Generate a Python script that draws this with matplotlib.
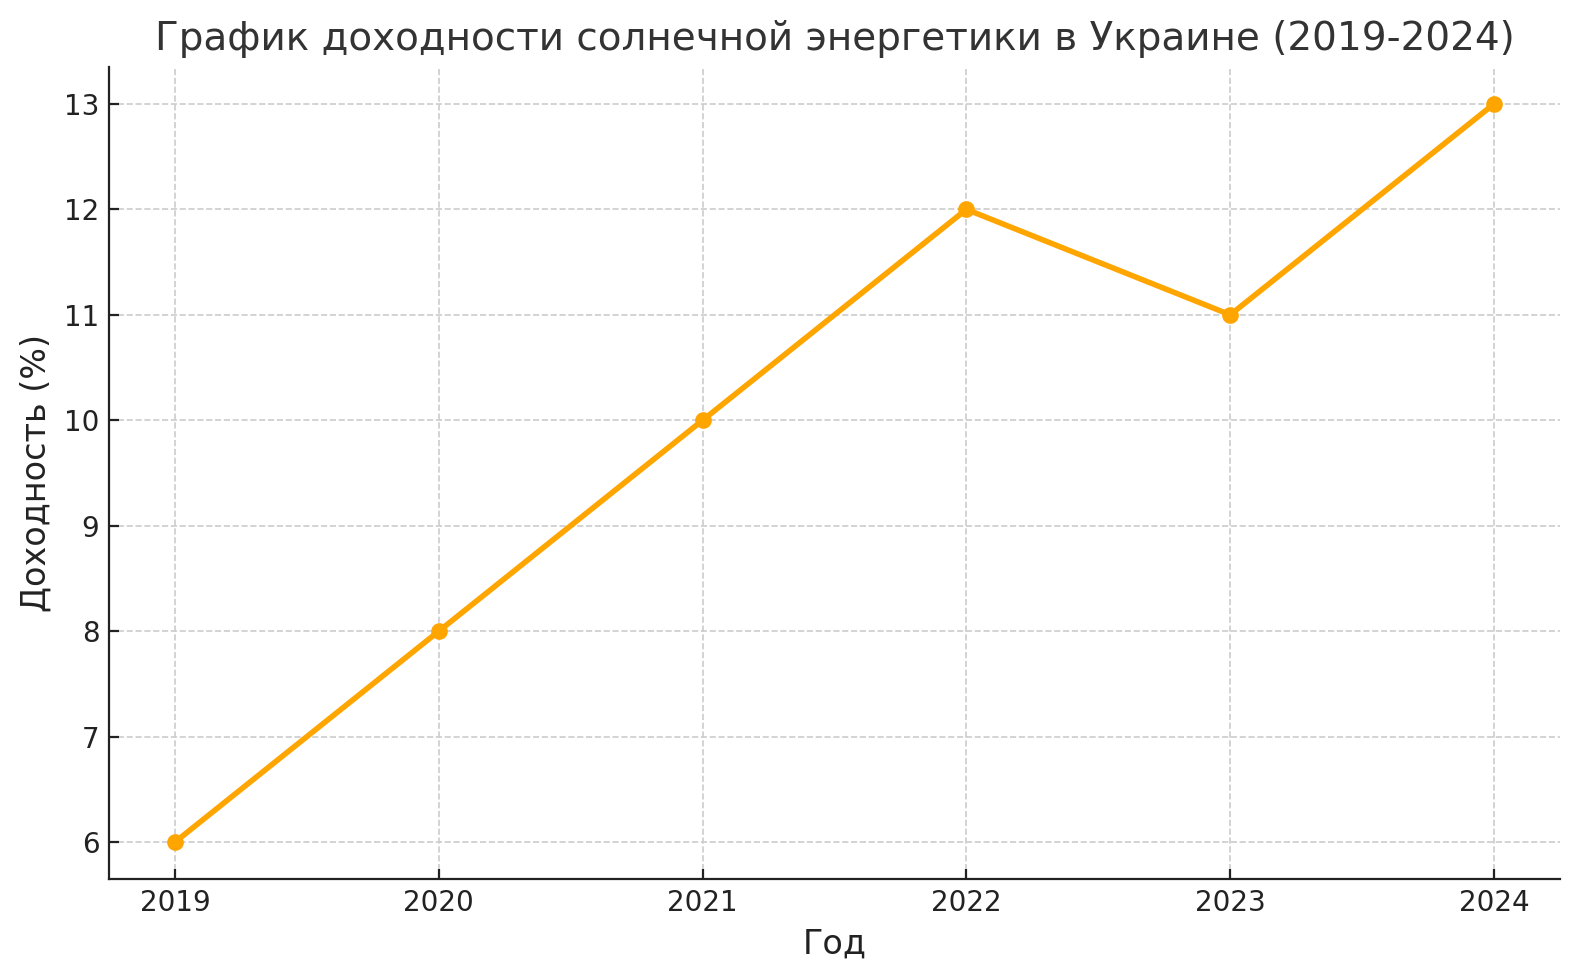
import matplotlib
matplotlib.use("Agg")
import matplotlib.pyplot as plt

years = [2019, 2020, 2021, 2022, 2023, 2024]
returns = [6, 8, 10, 12, 11, 13]

title = "График доходности солнечной энергетики в Украине (2019-2024)"
xlabel = "Год"
ylabel = "Доходность (%)"

plt.rcParams['font.family'] = ['DejaVu Sans']
fig = plt.figure(figsize=(7.9, 4.9), dpi=200)
ax = fig.add_axes([109/1580, 1-879/980, (1560-109)/1580, (879-67)/980])
ax.plot(years, returns, color='orange', marker='o', linewidth=2, markersize=5)
ax.set_title(title, fontsize=14, color='#333333')
ax.set_xlabel(xlabel, fontsize=12, color='#222222')
ax.set_ylabel(ylabel, fontsize=12, color='#222222')
ax.set_xticks(years)
ax.grid(True, linestyle='--', color='#cccccc', linewidth=0.6)
ax.spines['top'].set_visible(False)
ax.spines['right'].set_visible(False)
for s in ('left', 'bottom'):
    ax.spines[s].set_color('#222222')
ax.tick_params(labelsize=10, direction='in', colors='#222222')
fig.savefig("out.png", dpi=200)
